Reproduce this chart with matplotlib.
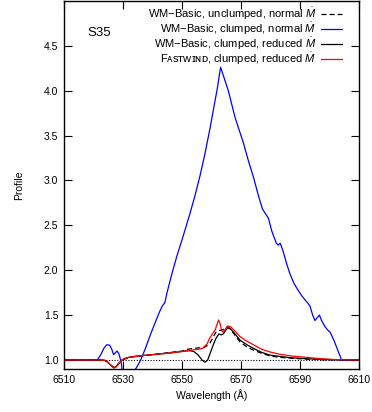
import matplotlib
matplotlib.use("Agg")
import matplotlib.pyplot as plt

plt.rcParams['font.family'] = ['Liberation Sans', 'DejaVu Sans']
plt.rcParams['mathtext.fontset'] = 'custom'
plt.rcParams['mathtext.it'] = 'Liberation Sans:italic'
plt.rcParams['mathtext.rm'] = 'Liberation Sans'

# WM-Basic, clumped, normal mass-loss rate
wl_clumped_normal = [6510, 6520, 6521.3, 6522.5, 6523.5, 6524.5, 6525.5, 6526.2, 6526.8,
                     6527.4, 6528.0, 6528.6, 6529.2, 6529.6, 6529.9, 6532.0, 6534.3, 6536.0,
                     6537.5, 6539.5, 6541.2, 6542.3, 6543.3, 6544.2, 6545.0, 6546.5, 6548.2,
                     6550.4, 6552.7, 6554.4, 6556.1, 6557.8, 6559.5, 6561.0, 6562.0, 6562.7,
                     6563.1, 6564.5, 6565.7, 6568.0, 6570.8, 6572.5, 6574.2, 6576.0, 6577.3,
                     6578.5, 6579.3, 6580.5, 6582.0, 6582.6, 6583.3, 6584.2, 6585.5, 6586.6,
                     6588.0, 6589.5, 6590.5, 6591.7, 6592.5, 6593.4, 6594.3, 6595.1, 6595.8,
                     6596.6, 6597.3, 6598.5, 6599.5, 6600.2, 6601.5, 6602.8, 6604.1, 6610]
prof_clumped_normal = [1.0, 1.0, 1.0, 1.06, 1.13, 1.17, 1.165, 1.12, 1.06,
                       1.08, 1.10, 1.07, 1.0, 0.93, 0.70, 0.76, 0.90, 1.0,
                       1.12, 1.30, 1.44, 1.53, 1.60, 1.64, 1.76, 1.95, 2.15,
                       2.38, 2.63, 2.83, 3.05, 3.30, 3.58, 3.85, 4.03, 4.18,
                       4.26, 4.12, 4.00, 3.70, 3.42, 3.22, 3.04, 2.82, 2.68,
                       2.62, 2.58, 2.43, 2.30, 2.28, 2.30, 2.22, 2.07, 1.96,
                       1.85, 1.77, 1.72, 1.67, 1.64, 1.60, 1.50, 1.44, 1.47,
                       1.50, 1.44, 1.37, 1.33, 1.31, 1.22, 1.11, 1.00, 1.00]

# WM-Basic, unclumped, normal mass-loss rate
wl_unclumped = [6510, 6523.5, 6524.5, 6525.5, 6526.5, 6527.0, 6527.6, 6528.5, 6529.5,
                6532, 6540, 6545, 6550, 6552, 6554, 6557.5, 6558.5, 6559.5, 6560.5,
                6561.5, 6562.5, 6563.4, 6564.5, 6565.5, 6566.5, 6567.4, 6569.7, 6572,
                6574.2, 6577, 6579.8, 6583, 6587, 6592, 6598, 6610]
prof_unclumped = [1.0, 1.0, 0.985, 0.955, 0.925, 0.915, 0.925, 0.96, 0.995,
                  1.03, 1.06, 1.08, 1.10, 1.12, 1.13, 1.14, 1.16, 1.19, 1.25,
                  1.31, 1.33, 1.33, 1.35, 1.37, 1.34, 1.30, 1.20, 1.145,
                  1.11, 1.075, 1.045, 1.03, 1.02, 1.01, 1.003, 1.0]

# WM-Basic, clumped, reduced mass-loss rate
wl_clumped_reduced = [6510, 6523.5, 6524.5, 6525.5, 6526.5, 6527.0, 6527.6, 6528.5, 6529.5,
                      6530.5, 6532, 6535, 6540, 6545, 6550, 6552.5, 6554, 6555.5, 6556.8,
                      6557.8, 6558.7, 6559.5, 6560.5, 6561.5, 6562.5, 6563.3, 6564, 6565,
                      6565.7, 6566.5, 6568, 6569.7, 6572, 6574.2, 6577, 6579.8, 6583,
                      6587, 6592, 6598, 6610]
prof_clumped_reduced = [1.0, 1.0, 0.985, 0.955, 0.925, 0.915, 0.925, 0.96, 0.995,
                        1.015, 1.03, 1.045, 1.06, 1.075, 1.095, 1.105, 1.095, 1.055, 1.0,
                        0.975, 1.0, 1.07, 1.16, 1.24, 1.29, 1.28, 1.29, 1.34,
                        1.36, 1.345, 1.29, 1.22, 1.17, 1.13, 1.085, 1.055, 1.04,
                        1.025, 1.015, 1.005, 1.0]

# FASTWIND, clumped, reduced mass-loss rate
wl_fastwind = [6510, 6523.5, 6524.5, 6525.5, 6526.5, 6527.0, 6527.6, 6528.5, 6529.5,
               6530.5, 6532, 6535, 6540, 6545, 6550, 6553, 6555.5, 6557, 6558.5,
               6559.5, 6560.5, 6561.3, 6561.9, 6562.4, 6562.9, 6563.4, 6563.9, 6564.6,
               6565.5, 6566.5, 6568, 6569.7, 6572, 6574.2, 6577, 6579.8, 6583,
               6587, 6592, 6597, 6602, 6610]
prof_fastwind = [1.0, 1.0, 0.985, 0.955, 0.92, 0.91, 0.92, 0.955, 0.995,
                 1.015, 1.03, 1.045, 1.06, 1.075, 1.095, 1.11, 1.12, 1.13, 1.18,
                 1.25, 1.30, 1.34, 1.40, 1.445, 1.41, 1.33, 1.31, 1.34,
                 1.38, 1.37, 1.32, 1.26, 1.21, 1.17, 1.12, 1.09, 1.065,
                 1.045, 1.03, 1.015, 1.005, 1.0]

x_ticks = [6510, 6530, 6550, 6570, 6590, 6610]
y_ticks = [1.0, 1.5, 2.0, 2.5, 3.0, 3.5, 4.0, 4.5]

fig = plt.figure(figsize=(3.72, 4.12), dpi=100)
ax = fig.add_axes([0.172, 0.1044, 0.793, 0.8936])

ax.axhline(1.0, color='black', lw=0.8, ls=(0, (1, 1.5)))
ax.plot(wl_unclumped, prof_unclumped, color='black', lw=0.9, ls=(0, (4, 2.5)),
        label=r'WM−Basic, unclumped, normal $\dot{M}$')
ax.plot(wl_clumped_normal, prof_clumped_normal, color='#0000ff', lw=0.9,
        label=r'WM−Basic, clumped, normal $\dot{M}$')
ax.plot(wl_clumped_reduced, prof_clumped_reduced, color='black', lw=0.9,
        label=r'WM−Basic, clumped, reduced $\dot{M}$')
ax.plot(wl_fastwind, prof_fastwind, color='#ff0000', lw=0.9,
        label=r'Fᴀsᴛᴡɪɴᴅ, clumped, reduced $\dot{M}$')

ax.set_xlim(6510, 6610)
ax.set_ylim(0.9, 5.0)
ax.set_xticks(x_ticks)
ax.set_yticks(y_ticks)
ax.set_yticklabels([f'{v:.1f}' for v in y_ticks])
ax.tick_params(direction='in', length=6, width=0.8, top=True, right=True,
               labelsize=7.5, pad=4)
for s in ax.spines.values():
    s.set_linewidth(1.0)

ax.set_xlabel('Wavelength (Å)', fontsize=7.5, labelpad=3)
ax.set_ylabel('Profile', fontsize=7.5, labelpad=14)

ax.text(0.08, 0.905, 'S35', transform=ax.transAxes, fontsize=9.5)

ax.legend(loc='upper right', bbox_to_anchor=(0.957, 0.998), borderaxespad=0,
          frameon=False, markerfirst=False, fontsize=8,
          handlelength=1.9, handletextpad=0.4, labelspacing=-0.12)

fig.savefig('out.png', dpi=100)
